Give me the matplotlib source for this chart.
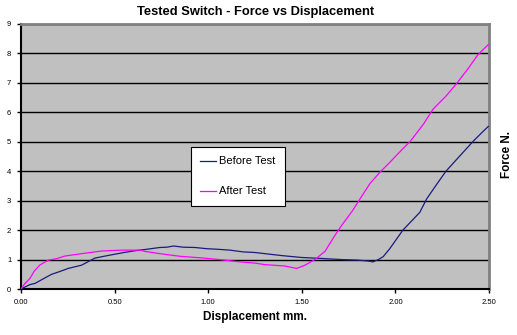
import matplotlib
matplotlib.use("Agg")
import matplotlib.pyplot as plt

title = "Tested Switch - Force vs Displacement"
xlabel = "Displacement mm."
ylabel = "Force N."

before_d = [0, 0.048, 0.075, 0.12, 0.164, 0.21, 0.253, 0.324, 0.395, 0.45, 0.50, 0.55, 0.61, 0.66,
            0.742, 0.78, 0.814, 0.867, 0.93, 0.99, 1.05, 1.116, 1.187, 1.25, 1.33, 1.40, 1.50,
            1.597, 1.713, 1.80, 1.855, 1.88, 1.909, 1.935, 1.97, 2.04, 2.13, 2.167, 2.22, 2.27,
            2.327, 2.37, 2.416, 2.46, 2.496]
before_f = [0, 0.15, 0.19, 0.35, 0.5, 0.6, 0.70, 0.81, 1.05, 1.12, 1.18, 1.24, 1.3, 1.34,
            1.41, 1.42, 1.46, 1.42, 1.41, 1.37, 1.35, 1.32, 1.26, 1.24, 1.18, 1.13, 1.07,
            1.04, 1.0, 0.98, 0.95, 0.92, 1.0, 1.1, 1.37, 2.0, 2.6, 3.06, 3.55, 4.0,
            4.4, 4.7, 5.02, 5.3, 5.52]

after_d = [0, 0.02, 0.048, 0.07, 0.10, 0.146, 0.19, 0.235, 0.324, 0.43, 0.50, 0.555, 0.636, 0.66,
           0.742, 0.85, 0.956, 1.06, 1.17, 1.25, 1.30, 1.41, 1.473, 1.517, 1.57, 1.624, 1.677,
           1.713, 1.77, 1.82, 1.864, 1.918, 1.97, 2.03, 2.08, 2.15, 2.2, 2.27, 2.33, 2.39,
           2.44, 2.496]
after_f = [0, 0.18, 0.36, 0.6, 0.81, 0.98, 1.03, 1.12, 1.2, 1.29, 1.31, 1.32, 1.32, 1.28,
           1.2, 1.11, 1.06, 1.0, 0.92, 0.88, 0.83, 0.78, 0.70, 0.81, 1.0, 1.28, 1.82,
           2.16, 2.65, 3.15, 3.58, 3.97, 4.3, 4.7, 5.02, 5.6, 6.1, 6.55, 7.0, 7.5,
           7.95, 8.3]

xticks = [0.0, 0.5, 1.0, 1.5, 2.0, 2.5]
xticklabels = ["0.00", "0.50", "1.00", "1.50", "2.00", "2.50"]
yticks = list(range(0, 10))

plt.rcParams['font.family'] = ['Liberation Sans', 'DejaVu Sans']

fig = plt.figure(figsize=(5.17, 3.35), dpi=100)
fig.patch.set_facecolor('white')
ax = fig.add_axes([21/517, 1-289/335, (489-21)/517, (289-24)/335])
ax.set_facecolor('#C0C0C0')

ax.plot(before_d, before_f, color='#1a1a80', lw=0.9, label='Before Test', zorder=3)
ax.plot(after_d, after_f, color='#FF00FF', lw=0.9, label='After Test', zorder=3)

ax.set_xlim(0, 2.5)
ax.set_ylim(0, 9)
ax.set_xticks(xticks)
ax.set_xticklabels(xticklabels)
ax.set_yticks(yticks)
ax.yaxis.grid(True, color='black', lw=1.0)
ax.set_axisbelow(True)
ax.tick_params(axis='both', labelsize=5.5, length=3, width=1, direction='out', pad=4)

for s in ['left', 'bottom']:
    ax.spines[s].set_color('black')
    ax.spines[s].set_linewidth(1.5)
for s in ['top', 'right']:
    ax.spines[s].set_color('#808080')
    ax.spines[s].set_linewidth(2)

fig.text(256/517, 1-12/335, title, ha='center', va='center', fontsize=9.3, fontweight='bold')
fig.text(255/517, 1-317/335, xlabel, ha='center', va='center', fontsize=8.5, fontweight='bold')
fig.text(507/517, 1-155/335, ylabel, ha='center', va='center', fontsize=8.5, fontweight='bold', rotation=90)

leg = ax.legend(loc='center', bbox_to_anchor=(238/517, 1-176.5/335), bbox_transform=fig.transFigure,
                frameon=True, fancybox=False, fontsize=8, handlelength=1.4, handletextpad=0.3,
                labelspacing=1.8, borderpad=0.85, borderaxespad=0)
leg.get_frame().set_edgecolor('black')
leg.get_frame().set_linewidth(0.8)
leg.get_frame().set_facecolor('white')
leg.get_frame().set_alpha(1)

fig.savefig('out.png', dpi=100)
